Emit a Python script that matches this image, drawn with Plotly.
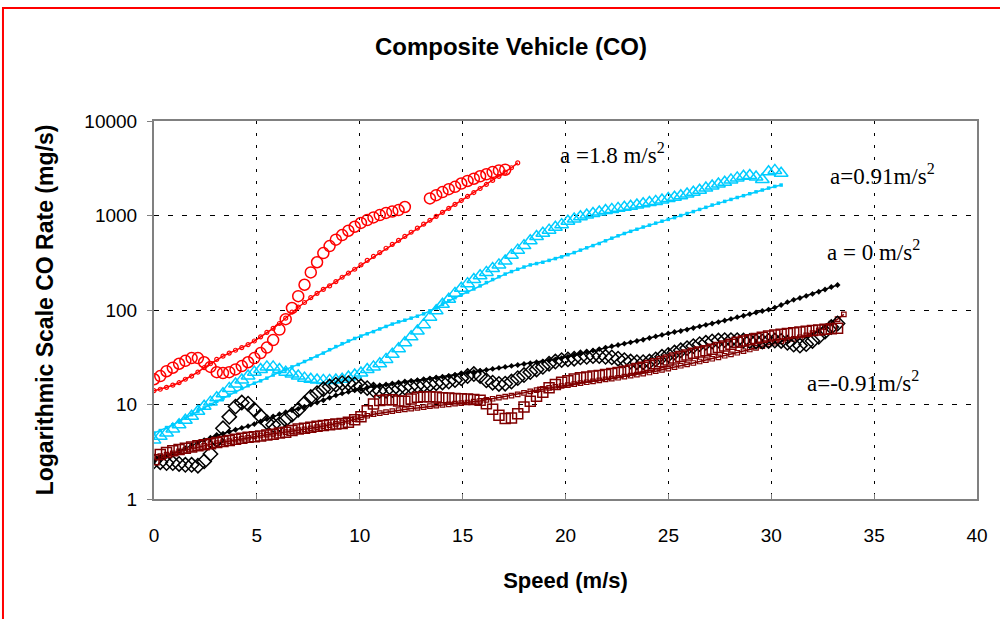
import math
import plotly.graph_objects as go

# Speed samples are spaced 1 ft/s (0.3048 m/s) apart
STEP = 0.3048

# a = 1.8 m/s^2 : measured (open circles) and model (small dots + line)
co_18_meas = [18.5, 20, 22.5, 24.5, 27, 29, 31, 31, 28, 25, 22, 21.5, 22, 23.5, 25.5, 28, 31, 35, 40, 48,
              62, 80, 105, 140, 185, 250, 320, 400, 475, 555, 620, 690, 760, 835, 895, 955, 1010, 1065, 1100, 1140,
              1230, None, None, None, 1515, 1640, 1770, 1900, 2010, 2180, 2320, 2450, 2600, 2730, 2880, 3000, 3050]
co_18_model = [14, 14.5, 15.2, 16, 17, 18.5, 20, 22, 24.5, 27, 30, 32.5, 35, 37.5, 40, 43, 47, 52, 58, 64,
               72, 82, 95, 107, 120, 135, 150, 165, 180, 200, 222, 245, 270, 300, 335, 370, 405, 450, 495, 545,
               600, 665, 735, 810, 890, 980, 1080, 1190, 1310, 1440, 1590, 1750, 1930, 2130, 2350, 2600, 2880, 3200, 3600]

# a = 0.91 m/s^2
co_091_meas = [4.2, 4.6, 5.0, 5.5, 6.1, 6.8, 7.5, 8.5, 9.6, 10.6, 11.8, 13, 14.8, 16.5, 18.2, 20, 22, 23.5, 25, 25,
               23.5, 22, 21, 20, 19, 18.5, 18.2, 18, 18, 18.2, 18.5, 19.5, 20.5, 21.5, 23.5, 25, 27, 30, 34, 39,
               45, 52, 60, 70, 84, 98, 115, 130, 150, 170, 190, 210, 230, 250, 275, 300, 330, 380, 430, 480,
               540, 600, 650, 700, 750, 800, 870, 920, 970, 1010, 1050, 1090, 1130, 1160, 1190, 1220, 1250, 1290, 1330, 1370,
               1410, 1460, 1510, 1560, 1620, 1690, 1760, 1850, 1950, 2050, 2150, 2250, 2380, 2500, 2600, 2650, 2550, 2400, 2900, 3000,
               2800]
co_091_model = [5.0, 5.3, 5.7, 6.1, 6.6, 7.2, 7.8, 8.5, 9.2, 10, 10.8, 11.7, 12.6, 13.6, 14.8, 15.8, 16.8, 17.8, 19, 20.5,
                22, 23.5, 25, 26.5, 28.5, 30.5, 32.5, 35, 38, 41, 44, 47, 50, 53, 56, 59, 63, 67, 71, 75,
                78, 82, 86, 91, 98, 105, 115, 125, 135, 145, 155, 167, 180, 195, 210, 225, 240, 255, 270, 285,
                300, 310, 320, 335, 350, 365, 385, 405, 430, 455, 480, 505, 540, 575, 610, 645, 680, 715, 755, 790,
                830, 870, 910, 950, 1000, 1050, 1100, 1160, 1220, 1290, 1350, 1410, 1480, 1550, 1620, 1700, 1780, 1860, 1950, 2030,
                2100]

# a = 0 m/s^2
co_0_meas = [2.5, 2.45, 2.4, 2.4, 2.35, 2.3, 2.3, 2.25, 2.5, 3.0, 4.2, 5.6, 7.4, 9.5, 10.5, 10.2, 8.8, 7.5, 6.5, 6.1,
             6.2, 6.9, 7.8, 8.8, 10.3, 12, 13.2, 14.5, 15.5, 16.2, 16.8, 16.8, 16.3, 15.6, 14.9, 14.3, 14, 14, 14.2, 14.6,
             15.1, 15.5, 15.8, 16.1, 16.4, 16.8, 17.1, 17.5, 18.1, 18.9, 20, 21, 20, 18, 17, 16.5, 16.6, 17.5, 19, 20.5,
             22, 23.5, 25, 27, 28.5, 29.5, 30, 30.5, 31.5, 32, 32.5, 32.5, 32, 31.5, 30.5, 29.5, 28.5, 28, 28, 28.5,
             30, 32, 33.5, 35.5, 37.5, 39.5, 41.5, 43.5, 45, 46.5, 47.5, 48, 48, 48, 47.5, 47, 46.5, 46.5, 47, 47.5,
             47, 45, 43, 42, 43.5, 47, 52, 59, 66, 72]
co_0_model = [2.5, 2.7, 2.85, 3.0, 3.2, 3.45, 3.7, 3.95, 4.2, 4.45, 4.65, 4.9, 5.15, 5.4, 5.65, 5.9, 6.2, 6.6, 7.0, 7.5,
              7.9, 8.3, 8.7, 9.0, 9.5, 10, 10.5, 11.1, 11.8, 12.5, 13.1, 13.6, 14.1, 14.6, 15.1, 15.5, 15.9, 16.3, 16.7, 17.1,
              17.5, 17.8, 18.1, 18.5, 18.9, 19.3, 19.7, 20.1, 20.6, 21.1, 21.6, 22.1, 22.6, 23.2, 23.8, 24.4, 25, 25.6, 26.2, 26.8,
              27.4, 28, 28.6, 29.2, 30, 31, 32, 33.2, 34.5, 36, 37.3, 38.6, 40, 41.3, 42.6, 44, 45.5, 47, 48.5, 50.5,
              52.5, 54.5, 56.5, 58.5, 60, 62, 64.5, 67, 69.5, 72, 74.5, 77.5, 80.5, 84, 87, 90.5, 94, 97.5, 101, 106,
              113, 121, 128, 134, 141, 148, 156, 165, 175, 184]

# a = -0.91 m/s^2
co_m091_meas = [2.6, 2.95, 3.1, 3.25, 3.35, 3.45, 3.55, 3.65, 3.75, 3.85, 3.95, 4.05, 4.15, 4.3, 4.4, 4.5, 4.55, 4.65, 4.75, 4.85,
                5.0, 5.1, 5.3, 5.5, 5.6, 5.75, 5.9, 6.0, 6.1, 6.2, 6.3, 6.5, 6.9, 7.4, 8.6, 10.1, 11, 11.2, 11.2, 10.9,
                10.8, 11.4, 11.9, 12.1, 12.1, 12, 11.8, 11.7, 11.6, 11.5, 11.4, 11.3, 11.1, 10.2, 8.9, 7.7, 7.1, 7.2, 8.0, 9.4,
                10.8, 12.2, 13.5, 15, 16.3, 17.2, 17.8, 18.6, 19.2, 19.6, 20, 20.3, 20.8, 21.3, 21.8, 22.5, 23.2, 24, 24.8, 25.8,
                27, 28.3, 29.6, 31, 32.3, 33.5, 34.8, 36, 37, 38.5, 40, 41.5, 43.5, 45.5, 47, 48.5, 50, 51.5, 53, 54.5,
                55.5, 56.5, 57.5, 58.5, 59.5, 60.5, 61.5, 62.5, 63.5, 64]
co_m091_model = [2.7, 2.85, 2.95, 3.05, 3.2, 3.3, 3.4, 3.55, 3.65, 3.8, 3.9, 4.0, 4.1, 4.25, 4.35, 4.45, 4.6, 4.7, 4.8, 4.9,
                 5.0, 5.1, 5.2, 5.35, 5.45, 5.6, 5.75, 5.9, 6.05, 6.25, 6.45, 6.7, 7.0, 7.3, 7.6, 7.9, 8.1, 8.3, 8.5, 8.7,
                 8.9, 9.05, 9.2, 9.4, 9.6, 9.75, 9.9, 10.05, 10.2, 10.35, 10.5, 10.7, 10.9, 11.2, 11.5, 11.8, 12.1, 12.4, 12.8, 13.3,
                 13.8, 14.2, 14.6, 15.0, 15.4, 15.7, 16.0, 16.4, 16.8, 17.2, 17.6, 18.0, 18.4, 18.8, 19.2, 19.7, 20.2, 20.7, 21.2, 21.8,
                 22.5, 23.3, 24, 24.8, 25.7, 26.6, 27.5, 28.5, 29.5, 30.5, 31.6, 32.8, 34, 35.3, 36.7, 38.2, 39.8, 41.5, 43.2, 45,
                 46.5, 48, 49.5, 51.5, 54, 57, 61, 66, 72, 80, 90]

x_ticks = [0, 5, 10, 15, 20, 25, 30, 35, 40]
y_ticks = [1, 10, 100, 1000, 10000]
y_tick_text = ["1", "10", "100", "1000", "10000"]

# curve labels: (speed, CO rate, text)
curve_labels = [
    (22.3, 4500, "a =1.8 m/s<sup>2</sup>"),
    (35.4, 2700, "a=0.91m/s<sup>2</sup>"),
    (34.95, 430, "a = 0 m/s<sup>2</sup>"),
    (34.45, 17.5, "a=-0.91m/s<sup>2</sup>"),
]


def speeds(values):
    return [round(STEP * i, 3) for i in range(len(values))]


RED = "#FF0000"
CYAN = "#00CCFF"
BLACK = "#000000"
MAROON = "#800000"

fig = go.Figure()

# model fits: small markers with a line
fig.add_trace(go.Scatter(x=speeds(co_18_model), y=co_18_model, mode="lines+markers",
                         line=dict(color=RED, width=1.5),
                         marker=dict(symbol="circle-open", size=4, color=RED, line=dict(width=1.2))))
fig.add_trace(go.Scatter(x=speeds(co_091_model), y=co_091_model, mode="lines+markers",
                         line=dict(color=CYAN, width=1.5),
                         marker=dict(symbol="square", size=3.5, color=CYAN)))
fig.add_trace(go.Scatter(x=speeds(co_0_model), y=co_0_model, mode="lines+markers",
                         line=dict(color=BLACK, width=1.5),
                         marker=dict(symbol="diamond", size=4.5, color=BLACK)))
fig.add_trace(go.Scatter(x=speeds(co_m091_model), y=co_m091_model, mode="lines+markers",
                         line=dict(color=MAROON, width=1.5),
                         marker=dict(symbol="square-open", size=4.5, color=MAROON, line=dict(width=1.2))))

# measured data: large open markers
fig.add_trace(go.Scatter(x=speeds(co_18_meas), y=co_18_meas, mode="markers",
                         marker=dict(symbol="circle-open", size=11, color=RED, line=dict(width=1.5))))
fig.add_trace(go.Scatter(x=speeds(co_091_meas), y=co_091_meas, mode="markers",
                         marker=dict(symbol="triangle-up-open", size=12, color=CYAN, line=dict(width=1.5))))
fig.add_trace(go.Scatter(x=speeds(co_0_meas), y=co_0_meas, mode="markers",
                         marker=dict(symbol="diamond-open", size=11, color=BLACK, line=dict(width=1.5))))
fig.add_trace(go.Scatter(x=speeds(co_m091_meas), y=co_m091_meas, mode="markers",
                         marker=dict(symbol="square-open", size=10, color=MAROON, line=dict(width=1.5))))

serif = "Liberation Serif, Times New Roman, serif"
for x, y, t in curve_labels:
    # annotation y on a log axis is given in log10 units
    fig.add_annotation(x=x, y=math.log10(y), yref="y", xref="x", text=t, showarrow=False,
                       font=dict(family=serif, size=23, color="black"))

fig.add_shape(type="rect", xref="paper", yref="paper",
              x0=-0.1835, x1=1.05, y0=-0.35, y1=1.299,
              line=dict(color="#FF0000", width=2), fillcolor="rgba(0,0,0,0)", layer="above")

sans = "Liberation Sans, Arial, sans-serif"
fig.update_layout(
    width=1000, height=619,
    margin=dict(l=154, r=23, t=121, b=120),
    paper_bgcolor="white", plot_bgcolor="white",
    showlegend=False,
    title=dict(text="<b>Composite Vehicle (CO)</b>", x=0.511, xref="container", y=0.925, yref="container",
               xanchor="center", yanchor="middle",
               font=dict(family=sans, size=24, color="black")),
    font=dict(family=sans, size=19, color="black"),
)
fig.update_xaxes(
    range=[0, 40], tickvals=x_ticks, ticktext=[str(v) for v in x_ticks],
    showline=True, linecolor="#808080", linewidth=2, mirror=True,
    ticks="inside", ticklen=5, tickcolor="#808080", tickwidth=1,
    ticklabelstandoff=18,
    showgrid=True, gridcolor="#000000", gridwidth=1, griddash="3px,9px",
    zeroline=False, tickfont=dict(family=sans, size=19),
    title=dict(text="<b>Speed (m/s)</b>", font=dict(family=sans, size=22), standoff=28),
)
fig.update_yaxes(
    type="log", range=[0, 4], tickvals=y_ticks, ticktext=y_tick_text,
    showline=True, linecolor="#808080", linewidth=2, mirror=True,
    ticks="outside", ticklen=5, tickcolor="#808080", tickwidth=1,
    ticklabelstandoff=6,
    showgrid=True, gridcolor="#000000", gridwidth=1, griddash="5px,9px",
    zeroline=False, tickfont=dict(family=sans, size=19),
    title=dict(text="<b>Logarithmic Scale CO Rate (mg/s)</b>", font=dict(family=sans, size=23), standoff=24),
)

fig.write_html("out.html")
